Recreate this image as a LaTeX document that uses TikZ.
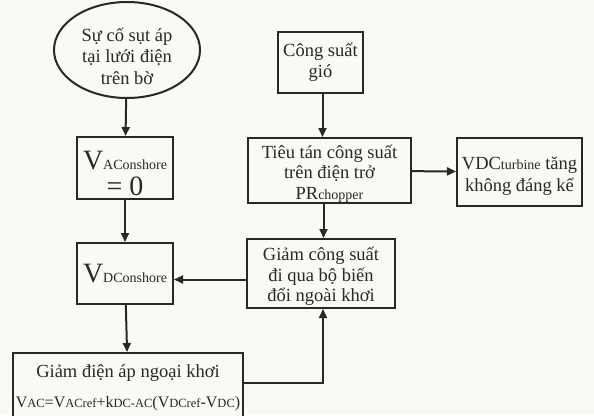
\documentclass[tikz,border=0pt]{standalone}
\usepackage{fontspec}
\setmainfont{Liberation Serif}
\usetikzlibrary{arrows.meta}
\usetikzlibrary{calc}
\usetikzlibrary{positioning}
\usetikzlibrary{shapes.geometric}
\definecolor{paper}{RGB}{250,249,244}
\definecolor{ink}{RGB}{40,40,40}
\newcommand{\bigv}{{\fontsize{28}{30}\selectfont V}}
\newcommand{\smtx}[1]{{\fontsize{14}{16}\selectfont #1}}
\newcommand{\ftx}[1]{{\fontsize{12.5}{14}\selectfont #1}}

\begin{document}
\begin{tikzpicture}[x=1pt,y=-1pt,->,>={Triangle[length=9pt,width=8pt]},line width=2pt,draw=ink,
  font=\fontsize{18.5}{21.5}\selectfont, text=ink]
 \tikzstyle{blk}=[draw=ink, rectangle, align=center, inner sep=1pt, fill=paper]
 \tikzstyle{evt}=[draw=ink, ellipse, align=center, inner sep=0pt, fill=paper]
 \tikzstyle{lbl}=[align=center, text=ink, inner sep=0pt]
 \useasboundingbox (0,0) rectangle (594,415);
 \clip (0,0) rectangle (594,415);
 \fill[paper] (0,0) rectangle (594,415);
 % left column
 \node[evt, minimum width=146pt, minimum height=96pt,
   label={[lbl, yshift=-6pt]center:Sự cố sụt áp\\tại lưới điện\\trên bờ}] (fault) at (127,50) {};
 \node[blk, minimum width=96pt, minimum height=62pt,
   label={[lbl, yshift=-5pt, font=\fontsize{28}{26}\selectfont]center:V\smtx{AConshore}\\= 0}] (vac) at (125,168) {};
 \node[blk, minimum width=96pt, minimum height=61pt] (vdc) at (125,273.5)
   {\bigv\smtx{DConshore}};
 \node[blk, minimum width=230pt, minimum height=70pt] (dienap) at (128,388)
   {Giảm điện áp ngoại khơi\\[9pt]
    {\fontsize{16}{18}\selectfont V\ftx{AC}=V\ftx{ACref}+k\ftx{DC-AC}(V\ftx{DCref}-V\ftx{DC})}};
 % right column
 \node[blk, minimum width=85pt, minimum height=61pt] (gio) at (320.5,62.5)
   {Công suất\\gió};
 \node[blk, minimum width=163pt, minimum height=65pt,
   label={[lbl, yshift=-3pt, font=\fontsize{18.5}{20.5}\selectfont]center:Tiêu tán công suất\\trên điện trở\\PR\smtx{chopper}}] (tieu) at (329.5,170.5) {};
 \node[blk, minimum width=125pt, minimum height=68pt,
   label={[lbl, yshift=-4pt]center:VDC\smtx{turbine} tăng\\không đáng kể}] (turb) at (519.5,172) {};
 \node[blk, minimum width=148pt, minimum height=69pt,
   label={[lbl, yshift=-3pt, font=\fontsize{18.5}{20.5}\selectfont]center:Giảm công suất\\đi qua bộ biến\\đổi ngoài khơi}] (giam) at (321,273.5) {};

 \path
   (fault) edge (vac)
   (vac) edge (vdc)
   (vdc) edge (dienap)
   (tieu) edge (turb);
 \draw ([xshift=2pt]gio.south) -- ([xshift=2pt]gio.south |- tieu.north);
 \draw ([xshift=-6pt]tieu.south) -- ([xshift=-6pt]tieu.south |- giam.north);
 \draw ([yshift=-6pt]giam.west) -- ([yshift=-6pt]giam.west -| vdc.east);
 \draw ([yshift=5pt]dienap.east) -| ([xshift=2pt]giam.south);
\end{tikzpicture}
\end{document}
